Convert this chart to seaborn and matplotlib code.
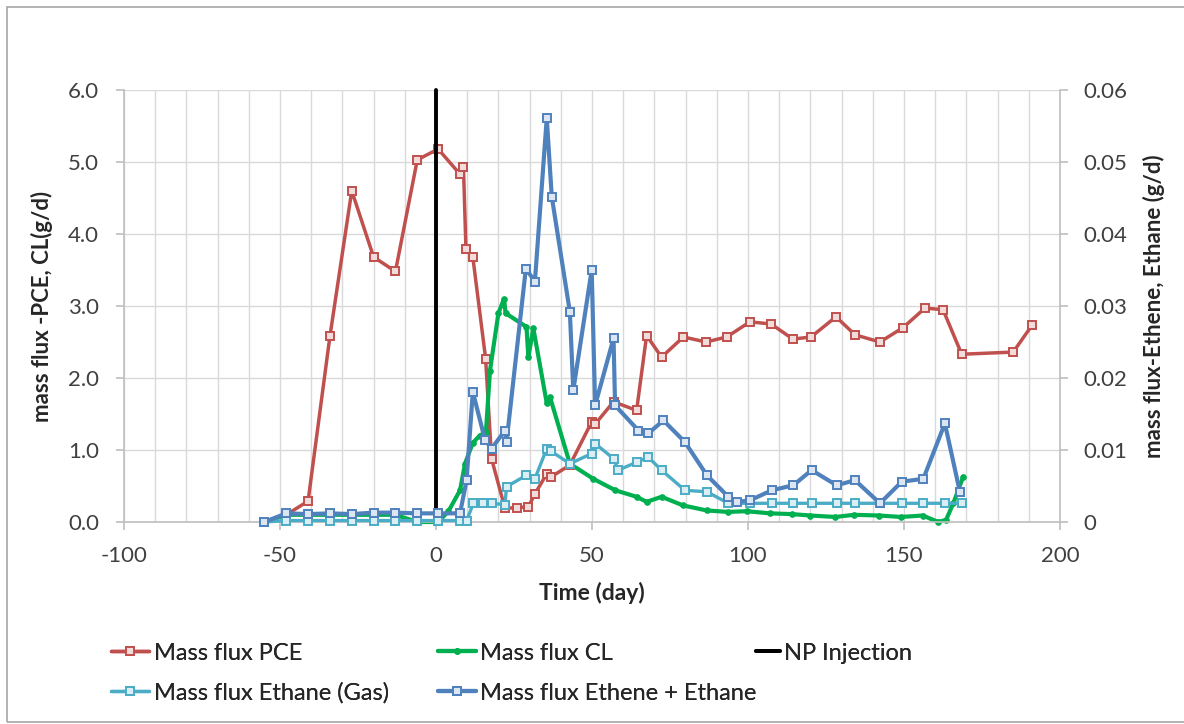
import matplotlib
matplotlib.use("Agg")
import matplotlib.pyplot as plt
import seaborn as sns
import numpy as np
import pandas as pd
from matplotlib.patches import Rectangle
from matplotlib.ticker import MultipleLocator, FixedLocator, FixedFormatter

# ---------------- data ----------------
pce_days = [-55, -48, -41, -34, -27, -20, -13, -6, 0.7, 7.7, 8.8, 9.6, 11.8, 15.9, 17.8,
            22.1, 26, 29.6, 31.7, 35.5, 37, 42.9, 49.9, 51, 56.9, 64.3, 67.5, 72.3, 79.3,
            86.5, 93.2, 100.6, 107.4, 114.4, 120.2, 128.2, 134.3, 142.3, 149.7, 156.7,
            162.5, 168.5, 185, 191]
pce_flux = [0.0, 0.1, 0.29, 2.58, 4.6, 3.68, 3.48, 5.03, 5.18, 4.83, 4.93, 3.79, 3.68, 2.27, 0.88,
            0.19, 0.2, 0.21, 0.39, 0.67, 0.63, 0.79, 1.39, 1.36, 1.67, 1.55, 2.59, 2.29, 2.57,
            2.50, 2.57, 2.78, 2.75, 2.54, 2.57, 2.85, 2.6, 2.5, 2.7, 2.97,
            2.95, 2.33, 2.36, 2.73]

cl_days = [-55, -48, -41, -34, -27, -20, -13, -6, 0.7, 4, 7.7, 9.3, 11.8, 14, 16, 17.3, 20,
           21.8, 22.3, 29, 29.6, 31.2, 35.5, 36.5, 42.9, 50.4, 57.5, 64.3, 67.5, 72.3, 79.2,
           86.8, 93.6, 99.6, 107, 114, 120, 128, 134, 142, 149, 156, 161, 163.5, 165.8, 169]
cl_flux = [0.0, 0.1, 0.1, 0.1, 0.1, 0.1, 0.1, 0.0, 0.0, 0.15, 0.44, 0.81, 1.1, 1.2, 1.25, 2.1, 2.9,
           3.1, 2.9, 2.71, 2.29, 2.69, 1.65, 1.74, 0.81, 0.6, 0.44, 0.35, 0.28, 0.35, 0.23,
           0.16, 0.14, 0.15, 0.12, 0.11, 0.09, 0.07, 0.1, 0.09, 0.07, 0.09, 0.0, 0.03, 0.26, 0.63]

np_days = [0, 0]
np_level = [0.0, 6.0]

ethane_gas_days = [-55, -48, -41, -34, -27, -20, -13, -6, 0.7, 7.7, 9.8, 12, 15.2, 17.9, 22.1,
                   22.6, 29, 31.7, 35.5, 37, 42.9, 49.9, 51, 56.9, 58.4, 64.3, 68, 72.3, 79.8,
                   86.8, 93.7, 100.6, 107.6, 114.5, 120.4, 128.4, 134.3, 142.3, 149.3, 156.2,
                   163.1, 168.5]
ethane_gas_flux = [0.0, 0.0002, 0.0002, 0.0002, 0.0002, 0.0002, 0.0002, 0.0002, 0.0002, 0.0002,
                   0.0002, 0.0026, 0.0026, 0.0026, 0.0024, 0.0049, 0.0065, 0.0060, 0.0102, 0.0098,
                   0.0081, 0.0095, 0.0109, 0.0088, 0.0072, 0.0083, 0.0090, 0.0072, 0.0044,
                   0.0042, 0.0026, 0.0026, 0.0026, 0.0026, 0.0026, 0.0026, 0.0026, 0.0026,
                   0.0026, 0.0026, 0.0026, 0.0026]

ethene_days = [-55, -48, -41, -34, -27, -20, -13, -6, 0.7, 7.7, 9.8, 11.8, 15.7, 17.8, 22.1,
               22.6, 28.8, 31.7, 35.5, 37.1, 42.9, 44, 49.9, 51, 56.9, 57.4, 64.9, 68, 72.9,
               79.8, 86.8, 93.7, 96.4, 100.6, 107.6, 114.5, 120.4, 128.4, 134.3, 142.3, 149.3,
               156.2, 163.1, 167.9]
ethene_flux = [0.0, 0.0012, 0.0011, 0.0012, 0.0011, 0.0013, 0.0013, 0.0012, 0.0012, 0.0012,
               0.0058, 0.0181, 0.0114, 0.0102, 0.0127, 0.0111, 0.0352, 0.0334, 0.0561, 0.0452,
               0.0292, 0.0183, 0.0350, 0.0162, 0.0255, 0.0162, 0.0127, 0.0123, 0.0141,
               0.0111, 0.0065, 0.0035, 0.0028, 0.0030, 0.0044, 0.0051, 0.0072, 0.0051, 0.0058,
               0.0026, 0.0056, 0.0060, 0.0137, 0.0042]

x_ticks = [-100, -50, 0, 50, 100, 150, 200]
left_ticks = [0, 1, 2, 3, 4, 5, 6]
left_tick_labels = ["0.0", "1.0", "2.0", "3.0", "4.0", "5.0", "6.0"]
right_ticks = [0, 0.01, 0.02, 0.03, 0.04, 0.05, 0.06]
right_tick_labels = ["0", "0.01", "0.02", "0.03", "0.04", "0.05", "0.06"]

# ---------------- styling ----------------
sns.set_style("white")
plt.rcParams["font.family"] = ["Lato", "DejaVu Sans"]
plt.rcParams["axes.unicode_minus"] = False

RED = "#C0504D"
GREEN = "#00B050"
LBLUE = "#4BACC6"
DBLUE = "#4F81BD"
GRID = "#D9D9D9"
AXC = "#BFBFBF"
TXT = "#404040"

fig = plt.figure(figsize=(11.84, 7.24), dpi=100)
ax = fig.add_axes([124 / 1184, 1 - 522 / 724, (1060 - 124) / 1184, (522 - 90) / 724])
ax2 = ax.twinx()

common = dict(sort=False, estimator=None, legend=False)

sns.lineplot(x=pce_days, y=pce_flux, ax=ax, color=RED, linewidth=2.5, marker="s",
             markersize=5.5, markeredgecolor=RED, markerfacecolor="#F2DCDB",
             markeredgewidth=1.4, **common)
l_pce = ax.lines[-1]
sns.lineplot(x=cl_days, y=cl_flux, ax=ax, color=GREEN, linewidth=3.0, marker="o",
             markersize=4, markeredgecolor=GREEN, markerfacecolor=GREEN, **common)
l_cl = ax.lines[-1]
sns.lineplot(x=np_days, y=np_level, ax=ax, color="black", linewidth=2.8, **common)
l_np = ax.lines[-1]
l_np.set_zorder(5)

sns.lineplot(x=ethane_gas_days, y=ethane_gas_flux, ax=ax2, color=LBLUE, linewidth=2.4,
             marker="s", markersize=5.5, markeredgecolor=LBLUE, markerfacecolor="#DAEEF3",
             markeredgewidth=1.4, **common)
l_eg = ax2.lines[-1]
sns.lineplot(x=ethene_days, y=ethene_flux, ax=ax2, color=DBLUE, linewidth=3.0,
             marker="s", markersize=5.5, markeredgecolor=DBLUE, markerfacecolor="#DCE6F2",
             markeredgewidth=1.4, **common)
l_ee = ax2.lines[-1]

for ln in ax.lines + ax2.lines:
    ln.set_clip_on(False)

# axes limits, ticks, grid
ax.set_xlim(-100, 200)
ax.set_ylim(0, 6)
ax2.set_ylim(0, 0.06)
ax.xaxis.set_major_locator(FixedLocator(x_ticks))
ax.xaxis.set_minor_locator(MultipleLocator(10))
ax.yaxis.set_major_locator(FixedLocator(left_ticks))
ax.yaxis.set_major_formatter(FixedFormatter(left_tick_labels))
ax2.yaxis.set_major_locator(FixedLocator(right_ticks))
ax2.yaxis.set_major_formatter(FixedFormatter(right_tick_labels))

ax.set_axisbelow(True)
ax.grid(which="both", axis="x", color=GRID, linewidth=1.0)
ax.grid(which="major", axis="y", color=GRID, linewidth=1.0)
ax2.grid(False)

for a in (ax, ax2):
    for s in a.spines.values():
        s.set_visible(False)
ax.spines["left"].set_visible(True)
ax.spines["bottom"].set_visible(True)
ax2.spines["right"].set_visible(True)
for s in (ax.spines["left"], ax.spines["bottom"], ax2.spines["right"]):
    s.set_color(AXC)
    s.set_linewidth(1.2)

ax.tick_params(axis="x", which="major", length=6, width=1.2, color=AXC, labelsize=16,
               labelcolor=TXT, pad=11, bottom=True)
ax.tick_params(axis="x", which="minor", length=0)
ax.tick_params(axis="y", length=6, width=1.2, color=AXC, labelsize=16, labelcolor=TXT,
               pad=12, left=True)
ax2.tick_params(axis="y", length=6, width=1.2, color=AXC, labelsize=16, labelcolor=TXT,
                pad=11, right=True)

ax.set_xlabel("Time (day)", fontsize=16.5, fontweight="bold", color="#262626", labelpad=12)
ax.set_ylabel("mass flux -PCE, CL(g/d)", fontsize=16, fontweight="bold", color="#262626",
              labelpad=11)
ax2.set_ylabel("mass flux-Ethene, Ethane (g/d)", fontsize=16, fontweight="bold",
               color="#262626", labelpad=11)

# legends (Excel style fixed grid)
entries = [
    (l_pce, "Mass flux PCE", 111, 653, 1.6),
    (l_cl, "Mass flux CL", 438, 653, 1.6),
    (l_np, "NP Injection", 756, 653, 1.0),
    (l_eg, "Mass flux Ethane (Gas)", 111, 693, 1.6),
    (l_ee, "Mass flux Ethene + Ethane", 438, 693, 1.6),
]
for h, lab, px, py, hl in entries:
    lg = fig.legend([h], [lab], loc="center left",
                    bbox_to_anchor=(px / 1184, 1 - py / 724),
                    bbox_transform=fig.transFigure, frameon=False, fontsize=17,
                    handlelength=hl, handletextpad=0.2, borderpad=0, borderaxespad=0,
                    numpoints=1)
    for t in lg.get_texts():
        t.set_color("#262626")
    fig.add_artist(lg)

# outer chart border
fig.add_artist(Rectangle((7 / 1184, 2 / 724), 1.2, 1 - 9 / 724, transform=fig.transFigure,
                         fill=False, edgecolor="#A6A6A6", linewidth=1.2))

fig.savefig("out.png", dpi=100, facecolor="white")
